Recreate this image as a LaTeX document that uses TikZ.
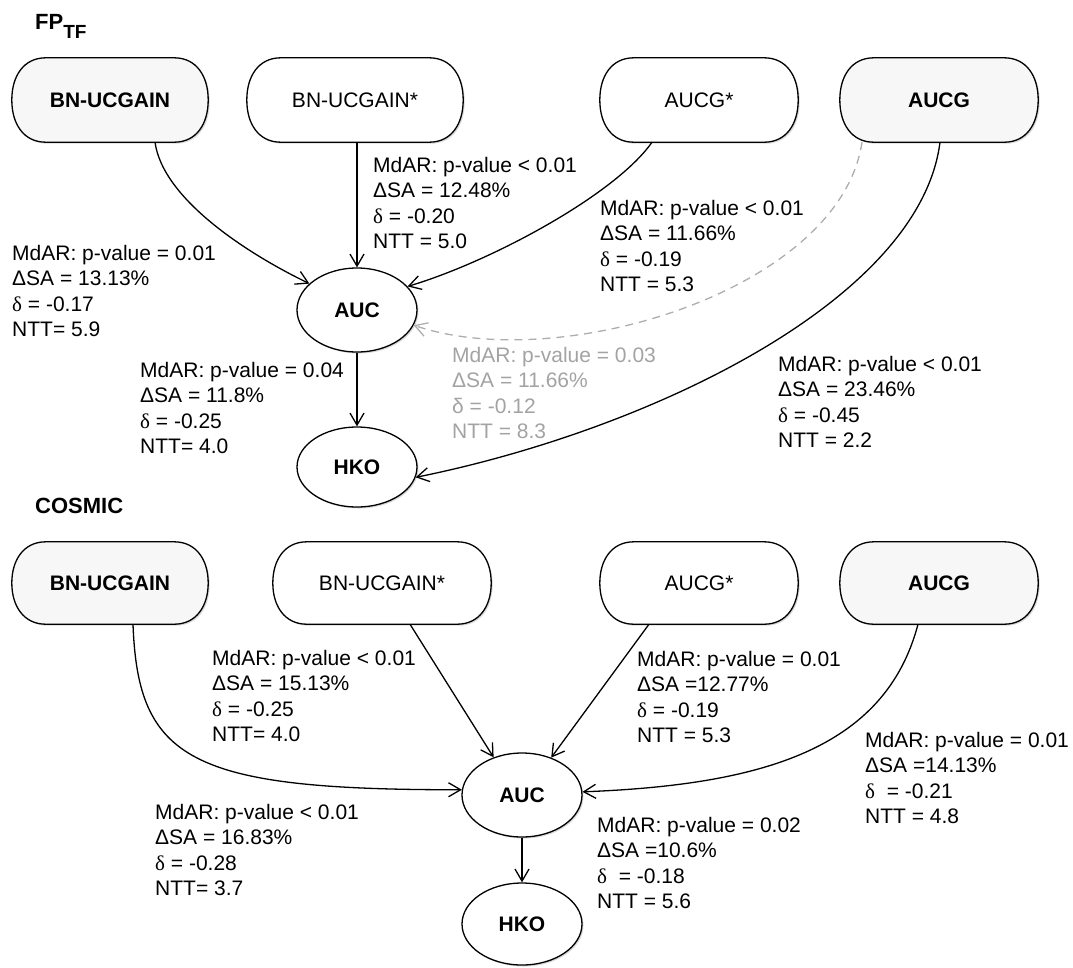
\documentclass[tikz,border=0pt]{standalone}
\usepackage{fontspec}
\setmainfont{Liberation Sans}
\newfontfamily\serifd{Liberation Serif}
\usetikzlibrary{arrows.meta,shapes.geometric,shadows}
\pgfdeclarelayer{bg}
\pgfsetlayers{bg,main}
\newcommand{\dl}{{\serifd δ}}
\tikzset{
  shad/.style={drop shadow={shadow xshift=1.5pt,shadow yshift=-1.5pt,fill=black!25,opacity=0.6}},
  box/.style={rectangle, minimum width=196pt, minimum height=84pt, inner sep=0pt,
              font=\fontsize{21}{25}\selectfont},
  boldbox/.style={box, font=\bfseries\fontsize{21}{25}\selectfont},
  outl/.style={line width=1.3pt, shad},
  ell/.style={ellipse, draw, line width=1.3pt, minimum width=120pt, minimum height=84pt, inner sep=0pt,
              fill=white, shad, font=\bfseries\fontsize{21}{25}\selectfont},
  lbl/.style={anchor=north west, align=left, inner sep=0pt, font=\fontsize{21}{25.5}\selectfont},
  glbl/.style={lbl, text=black!36},
  arr/.style={line width=1.3pt, -{Straight Barb[length=12pt,width=14pt]}},
  garr/.style={arr, draw=black!32, dash pattern=on 8pt off 6pt},
  ttl/.style={anchor=base west, inner sep=0pt, font=\bfseries\fontsize{22}{22}\selectfont}
}
% stadium-like outline around a named rectangle node
\newcommand{\stad}[2]{%
  \draw[outl, fill=#2]
    ([xshift=34pt]#1.north west) -- ([xshift=-34pt]#1.north east)
    .. controls ([xshift=-12pt]#1.north east) and ([yshift=-18pt]#1.north east) .. (#1.east)
    .. controls ([yshift=18pt]#1.south east) and ([xshift=-12pt]#1.south east) .. ([xshift=-34pt]#1.south east)
    -- ([xshift=34pt]#1.south west)
    .. controls ([xshift=12pt]#1.south west) and ([yshift=18pt]#1.south west) .. (#1.west)
    .. controls ([yshift=-18pt]#1.north west) and ([xshift=12pt]#1.north west) .. ([xshift=34pt]#1.north west)
    -- cycle;}
\begin{document}
\begin{tikzpicture}[x=1pt,y=-1pt]
\useasboundingbox (0,0) rectangle (1073,967);

% titles
\node[ttl] (t1) at (35,29) {FP\raisebox{-9pt}{\fontsize{19}{19}\selectfont TF}};
\node[ttl] (t2) at (35,513) {COSMIC};

% top nodes
\node[boldbox] (tb1) at (110,100) {BN-UCGAIN};
\node[box, minimum width=216pt] (tb2) at (355,100) {BN-UCGAIN*};
\node[box, minimum width=198pt] (ta2) at (699,100) {AUCG*};
\node[boldbox, minimum width=198pt] (ta1) at (939,100) {AUCG};
\node[ell] (tauc) at (357,310) {AUC};
\node[ell, minimum height=80pt] (thko) at (357,467) {HKO};

% bottom nodes
\node[boldbox, minimum height=82pt] (bb1) at (110,583) {BN-UCGAIN};
\node[box, minimum width=218pt, minimum height=82pt] (bb2) at (382,583) {BN-UCGAIN*};
\node[box, minimum width=198pt, minimum height=82pt] (ba2) at (699,583) {AUCG*};
\node[boldbox, minimum width=198pt, minimum height=82pt] (ba1) at (939,583) {AUCG};
\node[ell] (bauc) at (522,795) {AUC};
\node[ell, minimum height=82pt] (bhko) at (522,924) {HKO};

\begin{pgfonlayer}{bg}
\stad{tb1}{black!3}
\stad{tb2}{white}
\stad{ta2}{white}
\stad{ta1}{black!3}
\stad{bb1}{black!3}
\stad{bb2}{white}
\stad{ba2}{white}
\stad{ba1}{black!3}
\end{pgfonlayer}

% top connectors
\draw[arr] ([xshift=45pt]tb1.south) .. controls (163,200) and (250,255) .. (tauc.151);
\draw[arr] (tb2.south -| tauc.north) -- (tauc.north);
\draw[arr] ([xshift=-47pt]ta2.south) .. controls (615,195) and (490,262) .. (tauc.25);
\draw[garr] ([xshift=-77pt]ta1.south) .. controls (840,290) and (560,375) .. (tauc.-15);
\draw[arr] ([xshift=1pt]ta1.south) .. controls (920,300) and (650,430) .. (thko.-10);
\draw[arr] (tauc.south) -- (thko.north);

% bottom connectors
\draw[arr] ([xshift=23pt]bb1.south) .. controls (138,760) and (190,790) .. (bauc.175);
\draw[arr] ([xshift=28pt]bb2.south) -- (bauc.127);
\draw[arr] ([xshift=-50pt]ba2.south) -- (bauc.52);
\draw[arr] ([xshift=-21pt]ba1.south) .. controls (885,750) and (760,785) .. (bauc.3);
\draw[arr] (bauc.south) -- (bhko.north);

% top labels
\node[lbl] (l1) at (373,157) {MdAR: p-value < 0.01\\ΔSA = 12.48\%\\\dl{} = -0.20\\NTT = 5.0};
\node[lbl] (l2) at (12,245) {MdAR: p-value = 0.01\\ΔSA = 13.13\%\\\dl{} = -0.17\\NTT= 5.9};
\node[lbl] (l3) at (600,200) {MdAR: p-value < 0.01\\ΔSA = 11.66\%\\\dl{} = -0.19\\NTT = 5.3};
\node[glbl] (l4) at (452,347) {MdAR: p-value = 0.03\\ΔSA = 11.66\%\\δ = -0.12\\NTT = 8.3};
\node[lbl] (l5) at (140,362) {MdAR: p-value = 0.04\\ΔSA = 11.8\%\\\dl{} = -0.25\\NTT= 4.0};
\node[lbl] (l6) at (778,356) {MdAR: p-value < 0.01\\ΔSA = 23.46\%\\\dl{} = -0.45\\NTT = 2.2};

% bottom labels
\node[lbl] (m1) at (212,650) {MdAR: p-value < 0.01\\ΔSA = 15.13\%\\\dl{} = -0.25\\NTT= 4.0};
\node[lbl] (m2) at (637,651) {MdAR: p-value = 0.01\\ΔSA =12.77\%\\\dl{} = -0.19\\NTT = 5.3};
\node[lbl] (m3) at (865,732) {MdAR: p-value = 0.01\\ΔSA =14.13\%\\\dl\ \ = -0.21\\NTT = 4.8};
\node[lbl] (m4) at (155,804) {MdAR: p-value < 0.01\\ΔSA = 16.83\%\\\dl{} = -0.28\\NTT= 3.7};
\node[lbl] (m5) at (597,817) {MdAR: p-value = 0.02\\ΔSA =10.6\%\\\dl\ \ = -0.18\\NTT = 5.6};
\end{tikzpicture}
\end{document}
